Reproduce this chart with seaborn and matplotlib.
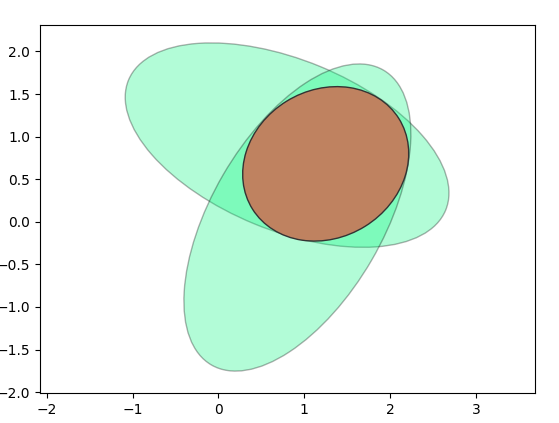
import matplotlib
matplotlib.use("Agg")
import matplotlib.pyplot as plt
from matplotlib.patches import Ellipse
import seaborn as sns

# Ellipse parameters (data units)
center_x = [0.80, 0.92, 1.25]
center_y = [0.90, 0.05, 0.68]
widths = [4.0, 4.0, 2.01]
heights = [2.0, 2.0, 1.73]
angles = [-22.5, 60.0, 32.0]
face_colors = ["#08f67f", "#08f67f", "#bf8260"]
face_alphas = [0.31, 0.31, 1.0]
edge_colors = [(0, 0, 0, 0.3), (0, 0, 0, 0.3), (0.2, 0.2, 0.2, 1.0)]

x_ticks = [-2, -1, 0, 1, 2, 3]
y_ticks = [-2.0, -1.5, -1.0, -0.5, 0.0, 0.5, 1.0, 1.5, 2.0]

fig = plt.figure(figsize=(5.59, 4.23), dpi=100)
ax = fig.add_axes([0.0716, 0.0709, 0.8855, 0.870])

for cx, cy, w, h, a, fc, fa, ec in zip(center_x, center_y, widths, heights,
                                         angles, face_colors, face_alphas, edge_colors):
    rgb = matplotlib.colors.to_rgb(fc)
    e = Ellipse((cx, cy), w, h, angle=a, facecolor=(*rgb, fa), edgecolor=ec, lw=1.0)
    ax.add_patch(e)

ax.set_xlim(-2.08, 3.69)
ax.set_ylim(-2.01, 2.31)
ax.set_xticks(x_ticks)
ax.set_yticks(y_ticks)
sns.despine(ax=ax, top=False, right=False)

fig.savefig("out.png", dpi=100)
